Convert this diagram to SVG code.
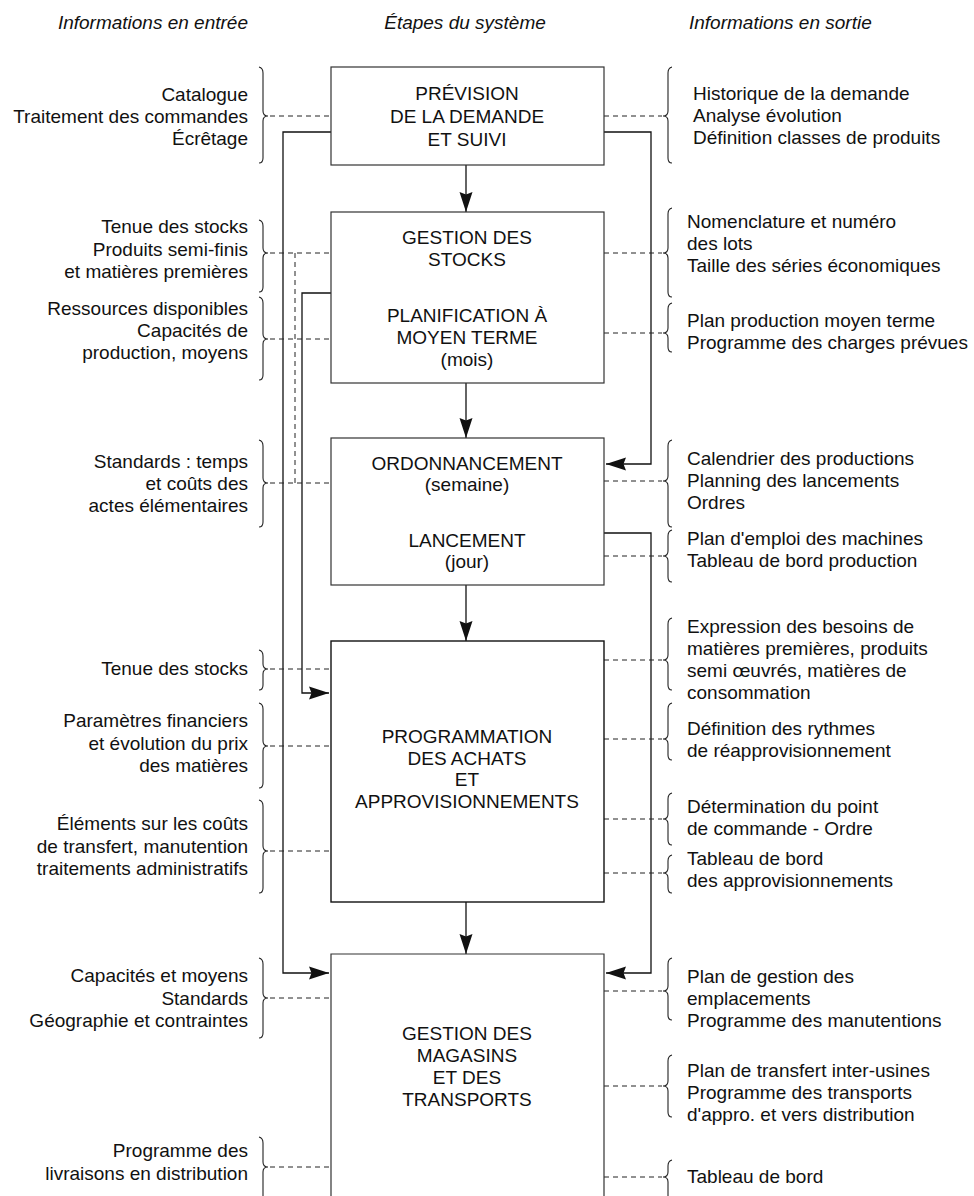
<svg xmlns="http://www.w3.org/2000/svg" width="974" height="1196" viewBox="0 0 974 1196">
<defs>
<style>
text{font-family:"Liberation Sans",Arial,sans-serif;font-size:19px;fill:#111}
.hd{font-style:italic}
.l{text-anchor:end}
.c{text-anchor:middle}
.box{fill:none;stroke:#333;stroke-width:1.2}
.sol{fill:none;stroke:#111;stroke-width:1.3}
.dsh{fill:none;stroke:#222;stroke-width:1;stroke-dasharray:5 4}
.br{fill:none;stroke:#222;stroke-width:1.1}
</style>
<marker id="ah" markerWidth="22" markerHeight="16" refX="20" refY="8" orient="auto" markerUnits="userSpaceOnUse"><path d="M0,1.5 L20,8 L0,14.5 L2.5,8 z" fill="#111"/></marker>
</defs>
<rect width="974" height="1196" fill="#fff"/>

<g id="headers">
<text class="hd l" x="248" y="29">Informations en entrée</text>
<text class="hd c" x="465" y="29">Étapes du système</text>
<text class="hd" x="689" y="29">Informations en sortie</text>
</g>

<g id="connectors">
<path class="sol" d="M466,165 V212" marker-end="url(#ah)"/>
<path class="sol" d="M466,383 V438" marker-end="url(#ah)"/>
<path class="sol" d="M466,585 V641" marker-end="url(#ah)"/>
<path class="sol" d="M466,902 V954" marker-end="url(#ah)"/>
<path class="sol" d="M331,132 H283 V973 H329" marker-end="url(#ah)"/>
<path class="sol" d="M331,293 H302 V693 H329" marker-end="url(#ah)"/>
<path class="sol" d="M604,132 H651 V464 H606" marker-end="url(#ah)"/>
<path class="sol" d="M604,533 H651 V973 H606" marker-end="url(#ah)"/>
<path class="dsh" d="M295,253 V483"/>
<path class="dsh" d="M270,116 H331 M270,253 H331 M270,339 H331 M270,483 H331 M270,669 H331 M270,746 H331 M270,851 H331 M270,998 H331 M270,1167 H331"/>
<path class="dsh" d="M604,116 H662 M604,253 H662 M604,333 H662 M604,481 H662 M604,556 H662 M604,660 H662 M604,739 H662 M604,819 H662 M604,873 H662 M604,991 H662 M604,1086 H662 M604,1177 H662"/>
</g>

<g id="braces-left">
<path class="br" d="M259,67 Q263,68 263,73 L263,111 Q263,116 268,116 Q263,116 263,121 L263,158 Q263,163 259,163"/>
<path class="br" d="M259,220 Q263,221 263,226 L263,248 Q263,253 268,253 Q263,253 263,258 L263,287 Q263,292 259,292"/>
<path class="br" d="M259,297 Q263,298 263,303 L263,334 Q263,339 268,339 Q263,339 263,344 L263,375 Q263,380 259,380"/>
<path class="br" d="M259,440 Q263,441 263,446 L263,478 Q263,483 268,483 Q263,483 263,488 L263,522 Q263,527 259,527"/>
<path class="br" d="M259,650 Q263,651 263,656 L263,664 Q263,669 268,669 Q263,669 263,674 L263,685 Q263,690 259,690"/>
<path class="br" d="M259,703 Q263,704 263,709 L263,741 Q263,746 268,746 Q263,746 263,751 L263,783 Q263,788 259,788"/>
<path class="br" d="M259,800 Q263,801 263,806 L263,846 Q263,851 268,851 Q263,851 263,856 L263,888 Q263,893 259,893"/>
<path class="br" d="M259,958 Q263,959 263,964 L263,993 Q263,998 268,998 Q263,998 263,1003 L263,1033 Q263,1038 259,1038"/>
<path class="br" d="M259,1137 Q263,1138 263,1143 L263,1162 Q263,1167 268,1167 Q263,1167 263,1172 L263,1196"/>
</g>

<g id="braces-right">
<path class="br" d="M672,67 Q668,68 668,73 L668,111 Q668,116 663,116 Q668,116 668,121 L668,158 Q668,163 672,163"/>
<path class="br" d="M672,208 Q668,209 668,214 L668,248 Q668,253 663,253 Q668,253 668,258 L668,292 Q668,297 672,297"/>
<path class="br" d="M672,303 Q668,304 668,309 L668,328 Q668,333 663,333 Q668,333 668,338 L668,347 Q668,352 672,352"/>
<path class="br" d="M672,440 Q668,441 668,446 L668,476 Q668,481 663,481 Q668,481 668,486 L668,522 Q668,527 672,527"/>
<path class="br" d="M672,530 Q668,531 668,536 L668,551 Q668,556 663,556 Q668,556 668,561 L668,577 Q668,582 672,582"/>
<path class="br" d="M672,618 Q668,619 668,624 L668,655 Q668,660 663,660 Q668,660 668,665 L668,685 Q668,690 672,690"/>
<path class="br" d="M672,703 Q668,704 668,709 L668,734 Q668,739 663,739 Q668,739 668,744 L668,755 Q668,760 672,760"/>
<path class="br" d="M672,793 Q668,794 668,799 L668,814 Q668,819 663,819 Q668,819 668,824 L668,840 Q668,845 672,845"/>
<path class="br" d="M672,855 Q668,856 668,861 L668,868 Q668,873 663,873 Q668,873 668,878 L668,888 Q668,893 672,893"/>
<path class="br" d="M672,958 Q668,959 668,964 L668,986 Q668,991 663,991 Q668,991 668,996 L668,1015 Q668,1020 672,1020"/>
<path class="br" d="M672,1055 Q668,1056 668,1061 L668,1081 Q668,1086 663,1086 Q668,1086 668,1091 L668,1112 Q668,1117 672,1117"/>
<path class="br" d="M672,1160 Q668,1161 668,1166 L668,1172 Q668,1177 663,1177 Q668,1177 668,1182 L668,1196"/>
</g>

<g id="node-prevision">
<rect class="box" x="331" y="67" width="273" height="98"/>
<text class="c" x="467" y="100">PRÉVISION</text>
<text class="c" x="467" y="123">DE LA DEMANDE</text>
<text class="c" x="467" y="146">ET SUIVI</text>
</g>
<g id="node-stocks">
<rect class="box" x="331" y="212" width="273" height="171"/>
<text class="c" x="467" y="244">GESTION DES</text>
<text class="c" x="467" y="266">STOCKS</text>
<text class="c" x="467" y="322">PLANIFICATION À</text>
<text class="c" x="467" y="344">MOYEN TERME</text>
<text class="c" x="467" y="366">(mois)</text>
</g>
<g id="node-ordonnancement">
<rect class="box" x="331" y="438" width="273" height="147"/>
<text class="c" x="467" y="470">ORDONNANCEMENT</text>
<text class="c" x="467" y="491">(semaine)</text>
<text class="c" x="467" y="547">LANCEMENT</text>
<text class="c" x="467" y="568">(jour)</text>
</g>
<g id="node-achats">
<rect class="box" x="331" y="641" width="273" height="261" style="stroke:#111;stroke-width:1.4"/>
<text class="c" x="467" y="743">PROGRAMMATION</text>
<text class="c" x="467" y="765">DES ACHATS</text>
<text class="c" x="467" y="786">ET</text>
<text class="c" x="467" y="808">APPROVISIONNEMENTS</text>
</g>
<g id="node-magasins">
<path class="box" d="M331,1196 V954 H604 V1196"/>
<text class="c" x="467" y="1040">GESTION DES</text>
<text class="c" x="467" y="1062">MAGASINS</text>
<text class="c" x="467" y="1084">ET DES</text>
<text class="c" x="467" y="1106">TRANSPORTS</text>
</g>

<g id="inputs">
<text class="l" x="248" y="101">Catalogue</text>
<text class="l" x="248" y="123">Traitement des commandes</text>
<text class="l" x="248" y="145">Écrêtage</text>
<text class="l" x="248" y="233">Tenue des stocks</text>
<text class="l" x="248" y="256">Produits semi-finis</text>
<text class="l" x="248" y="278">et matières premières</text>
<text class="l" x="248" y="315">Ressources disponibles</text>
<text class="l" x="248" y="337">Capacités de</text>
<text class="l" x="248" y="359">production, moyens</text>
<text class="l" x="248" y="468">Standards : temps</text>
<text class="l" x="248" y="490">et coûts des</text>
<text class="l" x="248" y="512">actes élémentaires</text>
<text class="l" x="248" y="675">Tenue des stocks</text>
<text class="l" x="248" y="727">Paramètres financiers</text>
<text class="l" x="248" y="750">et évolution du prix</text>
<text class="l" x="248" y="772">des matières</text>
<text class="l" x="248" y="830">Éléments sur les coûts</text>
<text class="l" x="248" y="853">de transfert, manutention</text>
<text class="l" x="248" y="875">traitements administratifs</text>
<text class="l" x="248" y="982">Capacités et moyens</text>
<text class="l" x="248" y="1005">Standards</text>
<text class="l" x="248" y="1027">Géographie et contraintes</text>
<text class="l" x="248" y="1157">Programme des</text>
<text class="l" x="248" y="1180">livraisons en distribution</text>
</g>

<g id="outputs">
<text x="693" y="100">Historique de la demande</text>
<text x="693" y="122">Analyse évolution</text>
<text x="693" y="144">Définition classes de produits</text>
<text x="687" y="228">Nomenclature et numéro</text>
<text x="687" y="250">des lots</text>
<text x="687" y="272">Taille des séries économiques</text>
<text x="687" y="327">Plan production moyen terme</text>
<text x="687" y="349">Programme des charges prévues</text>
<text x="687" y="465">Calendrier des productions</text>
<text x="687" y="487">Planning des lancements</text>
<text x="687" y="509">Ordres</text>
<text x="687" y="545">Plan d'emploi des machines</text>
<text x="687" y="567">Tableau de bord production</text>
<text x="687" y="633">Expression des besoins de</text>
<text x="687" y="655">matières premières, produits</text>
<text x="687" y="677">semi œuvrés, matières de</text>
<text x="687" y="699">consommation</text>
<text x="687" y="735">Définition des rythmes</text>
<text x="687" y="757">de réapprovisionnement</text>
<text x="687" y="813">Détermination du point</text>
<text x="687" y="835">de commande - Ordre</text>
<text x="687" y="865">Tableau de bord</text>
<text x="687" y="887">des approvisionnements</text>
<text x="687" y="983">Plan de gestion des</text>
<text x="687" y="1005">emplacements</text>
<text x="687" y="1027">Programme des manutentions</text>
<text x="687" y="1077">Plan de transfert inter-usines</text>
<text x="687" y="1099">Programme des transports</text>
<text x="687" y="1121">d'appro. et vers distribution</text>
<text x="687" y="1183">Tableau de bord</text>
</g>
</svg>
